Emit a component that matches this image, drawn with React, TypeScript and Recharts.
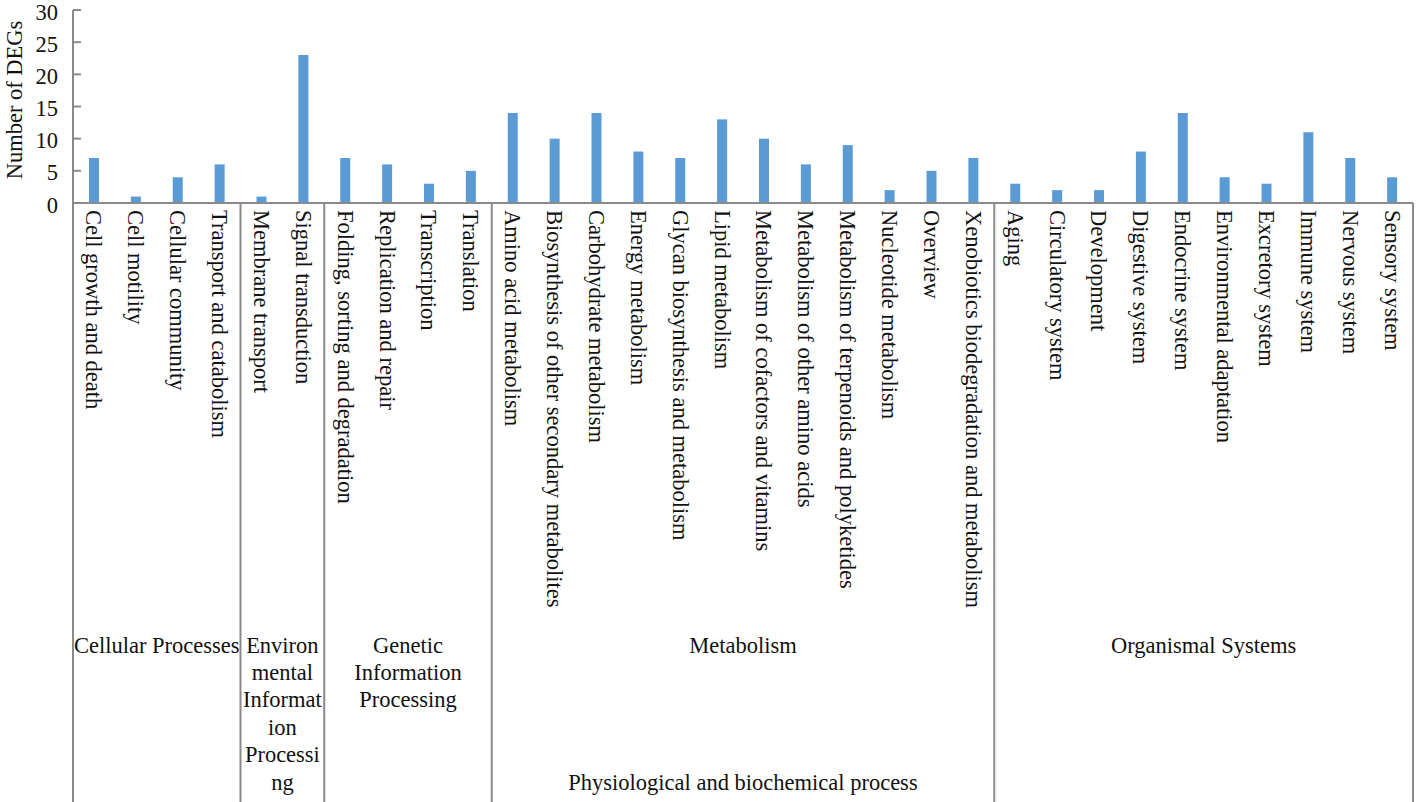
import { BarChart, Bar, XAxis, YAxis } from 'recharts';

const categories = [
  'Cell growth and death', 'Cell motility', 'Cellular community', 'Transport and catabolism',
  'Membrane transport', 'Signal transduction',
  'Folding, sorting and degradation', 'Replication and repair', 'Transcription', 'Translation',
  'Amino acid metabolism', 'Biosynthesis of other secondary metabolites', 'Carbohydrate metabolism',
  'Energy metabolism', 'Glycan biosynthesis and metabolism', 'Lipid metabolism',
  'Metabolism of cofactors and vitamins', 'Metabolism of other amino acids',
  'Metabolism of terpenoids and polyketides', 'Nucleotide metabolism', 'Overview',
  'Xenobiotics biodegradation and metabolism',
  'Aging', 'Circulatory system', 'Development', 'Digestive system', 'Endocrine system',
  'Environmental adaptation', 'Excretory system', 'Immune system', 'Nervous system', 'Sensory system',
];
const degCounts = [7, 1, 4, 6, 1, 23, 7, 6, 3, 5, 14, 10, 14, 8, 7, 13, 10, 6, 9, 2, 5, 7, 3, 2, 2, 8, 14, 4, 3, 11, 7, 4];
const groupNames = [
  ['Cellular Processes'],
  ['Environ', 'mental', 'Informat', 'ion', 'Processi', 'ng'],
  ['Genetic', 'Information', 'Processing'],
  ['Metabolism'],
  ['Organismal Systems'],
];
const groupSizes = [4, 2, 4, 12, 10];
const yTicks = [0, 5, 10, 15, 20, 25, 30];
const footNote = 'Physiological and biochemical process';

const data = categories.map((name, i) => ({ name, value: degCounts[i] }));

const W = 1418;
const H = 802;
const LEFT = 73;
const RIGHT = 5;
const TOP = 10;
const AXIS_H = 599;
const SLOT = (W - LEFT - RIGHT) / categories.length;
const FONT = '"Liberation Serif", "Times New Roman", serif';
const FS = 22.5;
const GREY = '#8a8a8a';

// first index of each group
const groupStarts = groupSizes.map((_, g) => groupSizes.slice(0, g).reduce((a, b) => a + b, 0));

function XTick(props: any) {
  const { x, y, payload } = props;
  const idx = payload.index;
  const left = x - SLOT / 2;
  const g = groupStarts.indexOf(idx);
  return (
    <g>
      <text
        x={x}
        y={y + 7}
        transform={`rotate(90, ${x}, ${y + 7})`}
        textAnchor="start"
        dominantBaseline="central"
        fontFamily={FONT}
        fontSize={FS}
        fill="#111"
      >
        {payload.value}
      </text>
      {g >= 0 && (
        <g>
          <line x1={left} y1={y} x2={left} y2={H} stroke={GREY} strokeWidth={2} />
          {groupNames[g].map((line, li) => (
            <text
              key={li}
              x={left + (groupSizes[g] * SLOT) / 2}
              y={645 + li * 27.4}
              textAnchor="middle"
              dominantBaseline="central"
              fontFamily={FONT}
              fontSize={FS}
              fill="#111"
            >
              {line}
            </text>
          ))}
          {g === 3 && (
            <text
              x={left + (groupSizes[g] * SLOT) / 2}
              y={782}
              textAnchor="middle"
              dominantBaseline="central"
              fontFamily={FONT}
              fontSize={FS}
              fill="#111"
            >
              {footNote}
            </text>
          )}
        </g>
      )}
      {idx === categories.length - 1 && (
        <line x1={x + SLOT / 2} y1={y} x2={x + SLOT / 2} y2={H} stroke={GREY} strokeWidth={2} />
      )}
    </g>
  );
}

function YTick(props: any) {
  const { x, y, payload } = props;
  return (
    <g>
      <line x1={x} y1={y} x2={x + 8} y2={y} stroke={GREY} strokeWidth={2} />
      <text
        x={x - 15}
        y={y + 2}
        textAnchor="end"
        dominantBaseline="central"
        fontFamily={FONT}
        fontSize={FS}
        fill="#111"
      >
        {payload.value}
      </text>
    </g>
  );
}

function YLabel() {
  return (
    <text
      x={14}
      y={100}
      transform="rotate(-90, 14, 100)"
      textAnchor="middle"
      dominantBaseline="central"
      fontFamily={FONT}
      fontSize={FS}
      fill="#111"
    >
      Number of DEGs
    </text>
  );
}

export default function App() {
  return (
    <div style={{ position: 'absolute', left: 0, top: 0, width: W, height: H, background: '#fff' }}>
      <BarChart width={W} height={H} data={data} margin={{ top: TOP, right: RIGHT, left: 0, bottom: 0 }}>
        <XAxis
          dataKey="name"
          interval={0}
          height={AXIS_H}
          tickLine={false}
          tickSize={0}
          tickMargin={0}
          stroke={GREY}
          strokeWidth={2}
          tick={<XTick />}
        />
        <YAxis
          width={LEFT}
          domain={[0, 30]}
          ticks={yTicks}
          tickLine={false}
          tickSize={0}
          tickMargin={0}
          stroke={GREY}
          strokeWidth={2}
          tick={<YTick />}
          label={<YLabel />}
        />
        <Bar dataKey="value" fill="#5b9bd5" barSize={10} isAnimationActive={false} />
      </BarChart>
    </div>
  );
}
